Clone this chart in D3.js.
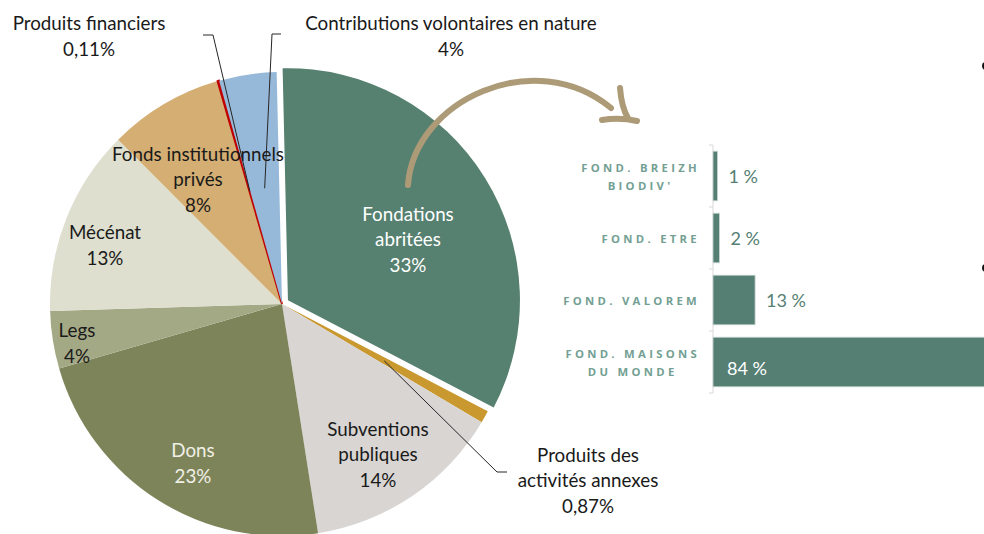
<!DOCTYPE html>
<html>
<head>
<meta charset="utf-8">
<script src="https://cdn.jsdelivr.net/npm/d3@7"></script>
<style>
  body { margin: 0; background: #fff; }
  svg { display: block; font-family: Lato, "Open Sans", sans-serif; }
  .lbl { font-size: 18.8px; fill: #1a1a1a; }
  .cat { font-family: "Open Sans", sans-serif; font-size: 11.3px; font-weight: 700; letter-spacing: 3.3px; fill: #73a093; }
  .val { font-size: 18px; fill: #558073; }
</style>
</head>
<body>
<svg class="plot"></svg>
<script>
// pie data (clockwise from the top)
const pieNames = ['Fondations abritées', 'Produits des activités annexes', 'Subventions publiques', 'Dons', 'Legs',
  'Mécénat', 'Fonds institutionnels privés', 'Produits financiers', 'Contributions volontaires en nature']
const pieValues = [33, 0.87, 14, 23, 4, 13, 8, 0.11, 4]
const pieLabels = ['33%', '0,87%', '14%', '23%', '4%', '13%', '8%', '0,11%', '4%']
const pieColors = ['#56806f', '#c9992f', '#d9d5d3', '#7e8459', '#a4a985', '#dedfcf', '#d4ae72', '#c00000', '#97b9d9']

// bar data (breakdown of "Fondations abritées")
const barNames = ["FOND. BREIZH|BIODIV'", 'FOND. ETRE', 'FOND. VALOREM', 'FOND. MAISONS|DU MONDE']
const barValues = [1, 2, 13, 84]
const barLabels = ['1 %', '2 %', '13 %', '84 %']

const dimen = { width: 984, height: 534 }
const center = { x: 282, y: 304 }
const R = 232

const svg = d3.select('.plot')
    .attr('width', dimen.width)
    .attr('height', dimen.height)

// Draw Pie
// ========
const startA = -0.023
const pie = d3.pie().sort(null).value(d => d.value)
  .startAngle(startA).endAngle(startA + 2 * Math.PI)
const data = pie(pieNames.map((n, i) => ({ name: n, value: pieValues[i], label: pieLabels[i], color: pieColors[i] })))
const arc = d3.arc().innerRadius(0).outerRadius(R)

const g = svg.append('g')
    .attr('transform', `translate(${center.x}, ${center.y})`)

g.selectAll('path.slice')
    .data(data)
  .enter().append('path')
    .attr('class', 'slice')
    .attr('d', arc)
    .attr('fill', d => d.data.color)
    .attr('stroke', d => d.data.name === 'Produits financiers' ? '#c00000' : 'none')
    .attr('stroke-width', 2)
    .attr('transform', (d, i) => {
      if (i !== 0) return null
      const m = (d.startAngle + d.endAngle) / 2
      return `translate(${Math.sin(m) * 7}, ${-Math.cos(m) * 7})`
    })

// label layout (offset of text block centre from pie centre)
const labelPos = {
  'Fondations abritées': [126, -66, 'Fondations|abritées', '#fff'],
  'Produits des activités annexes': [306, 175, 'Produits des|activités annexes', '#1a1a1a'],
  'Subventions publiques': [96, 149, 'Subventions|publiques', '#1a1a1a'],
  'Dons': [-89, 158, 'Dons', '#f0f0e6'],
  'Legs': [-205, 38, 'Legs', '#1a1a1a'],
  'Mécénat': [-177, -60, 'Mécénat', '#1a1a1a'],
  'Fonds institutionnels privés': [-84, -126, 'Fonds institutionnels|privés', '#1a1a1a'],
  'Produits financiers': [-193, -269, 'Produits financiers', '#1a1a1a'],
  'Contributions volontaires en nature': [169, -269, 'Contributions volontaires en nature', '#1a1a1a'],
}
const lineH = 25.5

data.forEach(d => {
  const p = labelPos[d.data.name]
  const lines = p[2].split('|').concat([d.data.label])
  const y0 = p[1] - (lines.length - 1) * lineH / 2
  const t = g.append('text')
      .attr('class', 'lbl')
      .attr('text-anchor', 'middle')
      .attr('dominant-baseline', 'central')
      .style('fill', p[3])
  lines.forEach((s, k) => {
    t.append('tspan').attr('x', p[0]).attr('y', y0 + k * lineH).text(s)
  })
})

// leader lines
const leaderArc = d3.arc().innerRadius(117).outerRadius(117)
const leaders = [
  { name: 'Produits financiers', elbow: [-69, -269], tail: -10 },
  { name: 'Contributions volontaires en nature', elbow: [-10, -270], tail: 9 },
  { name: 'Produits des activités annexes', elbow: [215, 168], tail: 10 },
]
leaders.forEach(l => {
  const d = data.find(s => s.data.name === l.name)
  const a = leaderArc.centroid(d)
  g.append('path')
      .attr('d', d3.line()([a, l.elbow, [l.elbow[0] + l.tail, l.elbow[1]]]))
      .attr('fill', 'none')
      .attr('stroke', '#262626')
      .attr('stroke-width', 1)
})

// Draw Arrow
// ==========
svg.append('path')
    .attr('d', 'M408,185 C414,100 535,45 611,108')
    .attr('fill', 'none')
    .attr('stroke', '#ad9b78')
    .attr('stroke-width', 6)
    .attr('stroke-linecap', 'round')
svg.append('path')
    .attr('d', 'M620,88 C621,100 623,110 628,118 M602,120 C615,118 628,119 637,121')
    .attr('fill', 'none')
    .attr('stroke', '#ad9b78')
    .attr('stroke-width', 6)
    .attr('stroke-linecap', 'round')

// Draw Bars
// =========
const yScale = d3.scaleBand()
  .domain(barNames)
  .range([145, 393])
  .paddingInner(0.2)
  .paddingOuter(0.1)
const xScale = d3.scaleLinear()
  .domain([0, 84])
  .range([713, 985])

const bars = svg.append('g')

// axis with separator ticks
bars.append('line')
    .attr('x1', xScale(0)).attr('x2', xScale(0))
    .attr('y1', yScale.range()[0]).attr('y2', yScale.range()[1])
    .attr('stroke', '#d9d9d9')
bars.selectAll('line.tick')
    .data(d3.range(barNames.length + 1))
  .enter().append('line')
    .attr('class', 'tick')
    .attr('x1', xScale(0) - 4).attr('x2', xScale(0))
    .attr('y1', i => yScale.range()[0] + i * yScale.step())
    .attr('y2', i => yScale.range()[0] + i * yScale.step())
    .attr('stroke', '#d9d9d9')

bars.selectAll('rect')
    .data(barValues)
  .enter().append('rect')
    .attr('x', xScale(0))
    .attr('y', (d, i) => yScale(barNames[i]))
    .attr('width', d => Math.max(4.5, xScale(d) - xScale(0)))
    .attr('height', yScale.bandwidth())
    .attr('fill', '#567f74')
    .attr('stroke', '#c9d6d1')
    .attr('stroke-width', 0.8)

bars.selectAll('text.val')
    .data(barValues)
  .enter().append('text')
    .attr('class', 'val')
    .attr('x', (d, i) => i === 3 ? xScale(0) + 14 : Math.max(xScale(0) + 4.5, xScale(d)) + 11)
    .attr('y', (d, i) => yScale(barNames[i]) + yScale.bandwidth() / 2 + (i === 3 ? 6 : 0))
    .attr('dominant-baseline', 'central')
    .style('fill', (d, i) => i === 3 ? '#fff' : '#558073')
    .text((d, i) => barLabels[i])

// category labels: block right-aligned, lines centred within the block
const catRight = 700
barNames.forEach(n => {
  const parts = n.split('|')
  const t = bars.append('text')
      .attr('class', 'cat')
      .attr('text-anchor', 'middle')
      .attr('dominant-baseline', 'central')
  const spans = parts.map((s, k) => t.append('tspan')
      .attr('y', yScale(n) + yScale.bandwidth() / 2 + (k - (parts.length - 1) / 2) * 18.5)
      .text(s))
  const w = d3.max(spans, s => s.node().getComputedTextLength())
  spans.forEach(s => s.attr('x', catRight - w / 2))
})

// bullets cut at right edge
svg.selectAll('circle.bullet')
    .data([66, 268])
  .enter().append('circle')
    .attr('cx', 986).attr('cy', d => d).attr('r', 4)
    .attr('fill', '#111')
</script>
</body>
</html>
